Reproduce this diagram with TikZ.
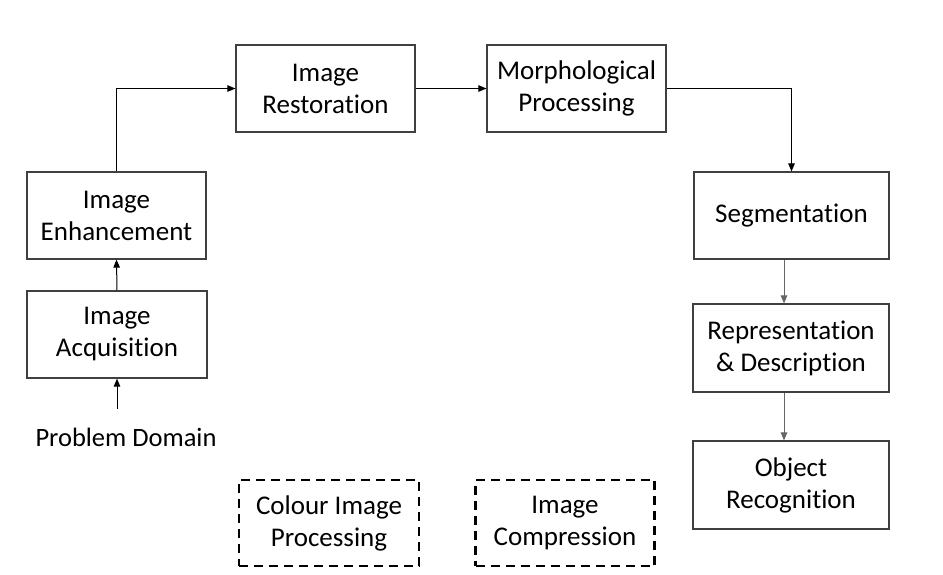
\documentclass[tikz,border=0pt]{standalone}
\usepackage{fontspec}
\setmainfont{Carlito}[Ligatures=NoCommon]
\usetikzlibrary{arrows.meta}
\begin{document}
\begin{tikzpicture}[x=1pt,y=1pt,
  box/.style={draw=black!75, line width=1.2pt, rectangle, align=center,
    inner sep=0pt, minimum width=179pt, minimum height=87pt,
    font=\fontsize{27}{32}\selectfont},
  wbox/.style={box, minimum width=196pt, minimum height=88pt},
  dbox/.style={box, draw=black, line width=2.2pt, dash pattern=on 9pt off 6pt, minimum height=86pt},
  arr/.style={draw=black, line width=1pt, -{Triangle[length=8pt,width=6.5pt]}},
  garr/.style={arr, draw=black!60}
]
\useasboundingbox (0,0) rectangle (943,-574);
\fill[white] (0,0) rectangle (943,-574);

\node[box] (res) at (325.5,-88.5) {Image\\Restoration};
\node[box] (mor) at (576.5,-88.5) {Morphological\\Processing};
\node[box] (enh) at (116.5,-215.5) {Image\\Enhancement};
\node[box, minimum width=180pt] (acq) at (117,-334.5) {Image\\Acquisition};
\node[wbox, minimum width=195pt, minimum height=87pt] (seg) at (791.5,-215.5) {Segmentation};
\node[wbox] (rep) at (791,-348) {Representation\\\& Description};
\node[wbox] (obj) at (791,-485) {Object\\Recognition};
\node[dbox, minimum width=180pt] (col) at (329,-523) {Colour Image\\Processing};
\node[dbox] (cmp) at (565,-523) {Image\\Compression};
\node[font=\fontsize{26.5}{31}\selectfont, inner xsep=0pt, inner ysep=19.5pt,
  text height=18pt, text depth=5pt] (pd) at (126,-440) {Problem Domain};

\draw[arr] (pd.north -| acq.south) -- (acq.south);
\draw[arr] (acq.north) -- (enh.south);
\draw[arr] (enh.north) |- (res.west);
\draw[arr] (res.east) -- (mor.west);
\draw[arr] (mor.east) -| (seg.north);
\draw[garr] ([xshift=-7.5pt]seg.south) -- ([xshift=-7pt]rep.north);
\draw[garr] ([xshift=-7pt]rep.south) -- ([xshift=-7pt]obj.north);
\end{tikzpicture}
\end{document}
